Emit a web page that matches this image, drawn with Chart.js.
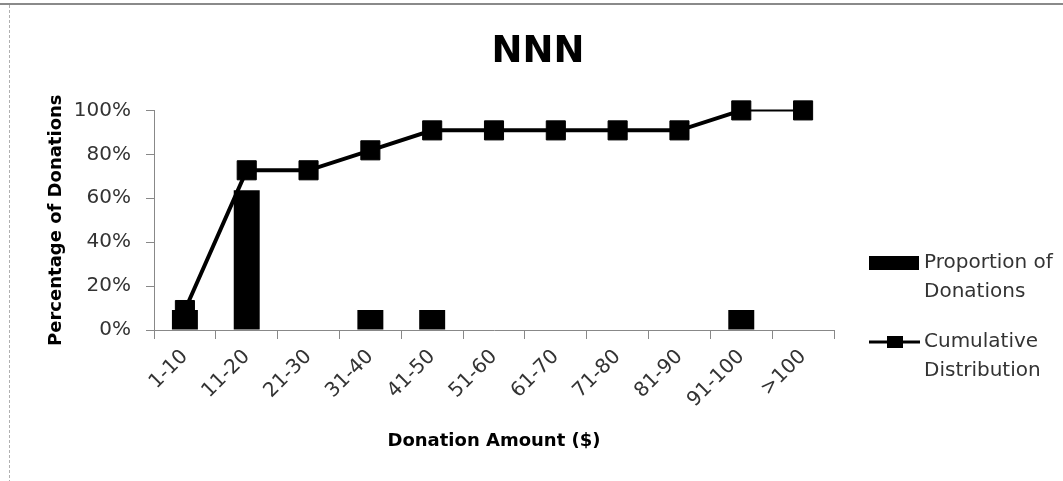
<!DOCTYPE html>
<html><head><meta charset="utf-8">
<script src="https://cdn.jsdelivr.net/npm/chart.js@4/dist/chart.umd.min.js"></script>
<style>html,body{margin:0;padding:0;background:#fff;overflow:hidden}canvas{display:block}</style>
</head><body>
<canvas id="c" width="1063" height="481"></canvas>
<script>
const categories = ['1-10','11-20','21-30','31-40','41-50','51-60','61-70','71-80','81-90','91-100','>100'];
const proportion = [0.0909,0.6364,0,0.0909,0.0909,0,0,0,0,0.0909,0];
const cumulative = [0.0909,0.7273,0.7273,0.8182,0.9091,0.9091,0.9091,0.9091,0.9091,1,1];
const yTicks = [0,0.2,0.4,0.6,0.8,1];
const seriesNames = ['Proportion of Donations','Cumulative Distribution'];
const legendLines = [['Proportion of','Donations'],['Cumulative','Distribution']];
const chartTitle = 'NNN';
const xTitle = 'Donation Amount ($)';
const yTitle = 'Percentage of Donations';

const FONT = '"DejaVu Sans", sans-serif';

const framePlugin = {
  id: 'frame',
  beforeDraw(chart) {
    const ctx = chart.ctx;
    ctx.save();
    ctx.fillStyle = '#fff';
    ctx.fillRect(0, 0, chart.width, chart.height);
    ctx.strokeStyle = '#8a8a8a';
    ctx.lineWidth = 2;
    ctx.beginPath(); ctx.moveTo(0, 4); ctx.lineTo(chart.width, 4); ctx.stroke();
    ctx.strokeStyle = '#b0b0b0';
    ctx.lineWidth = 1;
    ctx.setLineDash([3, 2]);
    ctx.beginPath(); ctx.moveTo(9.5, 5); ctx.lineTo(9.5, chart.height); ctx.stroke();
    ctx.restore();
  }
};

const legendPlugin = {
  id: 'sideLegend',
  afterDraw(chart) {
    const ctx = chart.ctx;
    ctx.save();
    ctx.textBaseline = 'middle';
    ctx.textAlign = 'left';
    ctx.font = '20px ' + FONT;
    ctx.fillStyle = chart.data.datasets[0].backgroundColor;
    ctx.fillRect(869, 256, 50, 14);
    ctx.strokeStyle = chart.data.datasets[1].borderColor;
    ctx.lineWidth = 3;
    ctx.beginPath(); ctx.moveTo(869, 342); ctx.lineTo(920, 342); ctx.stroke();
    ctx.fillStyle = chart.data.datasets[1].pointBackgroundColor;
    ctx.fillRect(887, 336, 16, 12);
    ctx.fillStyle = '#333';
    const rows = [[263, 292], [342, 371]];
    legendLines.forEach((lines, i) => {
      lines.forEach((t, j) => ctx.fillText(t, 924, rows[i][j]));
    });
    ctx.restore();
  }
};

new Chart(document.getElementById('c'), {
  type: 'bar',
  data: {
    labels: categories,
    datasets: [
      {
        type: 'bar',
        label: seriesNames[0],
        data: proportion,
        backgroundColor: '#000',
        barPercentage: 0.42,
        categoryPercentage: 1,
        order: 1
      },
      {
        type: 'line',
        label: seriesNames[1],
        data: cumulative,
        borderColor: '#000',
        borderWidth: 4,
        pointStyle: 'rect',
        pointRadius: 13.5,
        pointBackgroundColor: '#000',
        pointBorderColor: '#000',
        pointBorderWidth: 1,
        tension: 0,
        clip: false,
        segment: { borderWidth: ctx => ctx.p1DataIndex === 10 ? 2 : 4 },
        order: 0
      }
    ]
  },
  options: {
    responsive: false,
    animation: false,
    layout: { padding: { left: 13, right: 0, top: 0, bottom: 0 } },
    plugins: {
      legend: { display: false },
      tooltip: { enabled: false },
      title: {
        display: true,
        text: chartTitle,
        color: '#000',
        font: { family: FONT, size: 37, weight: 'bold' },
        padding: { top: 30, bottom: 36 }
      }
    },
    scales: {
      x: {
        grid: { display: true, drawOnChartArea: false, offset: true, color: '#888', tickLength: 9 },
        border: { color: '#888', width: 1 },
        ticks: { font: { family: FONT, size: 20 }, color: '#333', minRotation: 45, maxRotation: 45, padding: 6, autoSkip: false },
        title: { display: true, text: xTitle, color: '#000', font: { family: FONT, size: 18, weight: 'bold' }, padding: { top: 0, bottom: 29 } },
        afterFit: s => { s.height = 151; }
      },
      y: {
        min: 0, max: 1,
        afterBuildTicks: s => { s.ticks = yTicks.map(v => ({ value: v })); },
        grid: { drawOnChartArea: false, color: '#888', tickLength: 8 },
        border: { color: '#888', width: 1 },
        ticks: { font: { family: FONT, size: 20 }, color: '#333', padding: 15, callback: v => Math.round(v * 100) + '%' },
        title: { display: true, text: yTitle, color: '#000', font: { family: FONT, size: 18, weight: 'bold' }, padding: { top: 33, bottom: 0 } },
        afterFit: s => { s.width = 141; }
      },
      legendSpace: {
        type: 'linear',
        position: 'right',
        display: true,
        grid: { display: false },
        border: { display: false },
        ticks: { display: false },
        afterFit: s => { s.width = 229; }
      }
    }
  },
  plugins: [framePlugin, legendPlugin]
});
</script>
</body></html>
